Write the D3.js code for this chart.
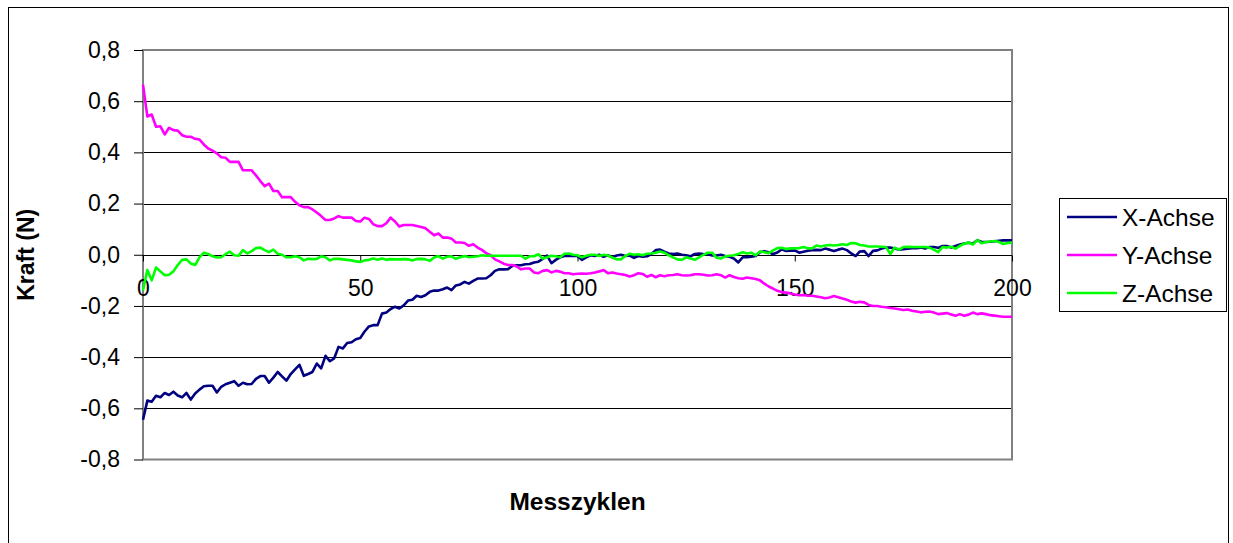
<!DOCTYPE html>
<html>
<head>
<meta charset="utf-8">
<script src="https://cdn.jsdelivr.net/npm/d3@7"></script>
<style>
  html, body { margin: 0; padding: 0; background: #fff; }
  svg { display: block; font-family: "Liberation Sans", Arial, sans-serif; }
</style>
</head>
<body>
<svg id="chart" width="1233" height="543"></svg>
<script>
// Kraftmessung über 200 Messzyklen (Werte in N)
const seriesNames = ["X-Achse", "Y-Achse", "Z-Achse"];
const seriesColors = ["#000080", "#FF00FF", "#00FF00"];

const xAchse = [
  -0.645,-0.57,-0.574,-0.551,-0.557,-0.54,-0.548,-0.535,-0.55,-0.557,
  -0.54,-0.566,-0.542,-0.527,-0.514,-0.512,-0.512,-0.538,-0.516,-0.506,
  -0.5,-0.494,-0.512,-0.5,-0.506,-0.505,-0.485,-0.474,-0.474,-0.5,
  -0.48,-0.458,-0.475,-0.492,-0.466,-0.448,-0.43,-0.473,-0.466,-0.458,
  -0.425,-0.444,-0.395,-0.416,-0.405,-0.36,-0.366,-0.345,-0.342,-0.33,
  -0.325,-0.3,-0.28,-0.275,-0.275,-0.23,-0.226,-0.212,-0.203,-0.21,
  -0.198,-0.179,-0.176,-0.16,-0.165,-0.158,-0.145,-0.14,-0.14,-0.135,
  -0.128,-0.138,-0.12,-0.116,-0.106,-0.113,-0.102,-0.093,-0.093,-0.092,
  -0.08,-0.063,-0.057,-0.057,-0.056,-0.044,-0.041,-0.041,-0.037,-0.036,
  -0.03,-0.027,-0.016,-0.003,-0.033,-0.02,-0.01,-0.005,-0.005,-0.005,
  -0.005,-0.02,-0.01,-0.002,-0.005,0.0,-0.008,-0.002,-0.01,-0.003,
  0.0,-0.005,-0.003,-0.012,-0.005,-0.008,-0.006,0.003,0.018,0.02,
  0.012,0.005,0.003,0.005,0.0,-0.002,-0.006,0.003,0.005,0.003,
  0.002,-0.003,-0.003,0.0,-0.005,-0.008,-0.015,-0.03,-0.01,-0.01,
  -0.008,-0.005,0.01,0.014,0.01,0.003,0.009,0.021,0.015,0.016,
  0.017,0.008,0.012,0.016,0.018,0.019,0.018,0.024,0.02,0.015,
  0.02,0.024,0.018,0.005,-0.005,0.013,0.014,-0.005,0.015,0.017,
  0.024,0.028,0.028,0.024,0.02,0.022,0.024,0.026,0.026,0.028,
  0.024,0.03,0.03,0.027,0.034,0.034,0.028,0.034,0.04,0.044,
  0.047,0.044,0.057,0.05,0.05,0.051,0.053,0.055,0.056,0.056,
  0.056
];

const yAchse = [
  0.665,0.54,0.548,0.50,0.502,0.47,0.496,0.487,0.485,0.467,
  0.461,0.461,0.453,0.45,0.431,0.415,0.407,0.396,0.381,0.379,
  0.363,0.363,0.363,0.33,0.33,0.33,0.31,0.288,0.268,0.278,
  0.249,0.249,0.225,0.225,0.225,0.207,0.193,0.186,0.186,0.177,
  0.165,0.151,0.136,0.136,0.142,0.151,0.145,0.145,0.145,0.132,
  0.13,0.145,0.14,0.119,0.112,0.112,0.123,0.145,0.13,0.11,
  0.116,0.116,0.116,0.112,0.108,0.104,0.09,0.076,0.083,0.067,
  0.067,0.063,0.048,0.048,0.046,0.035,0.041,0.028,0.019,0.006,
  -0.002,-0.018,-0.026,-0.035,-0.04,-0.04,-0.046,-0.057,-0.054,-0.054,
  -0.069,-0.072,-0.063,-0.06,-0.069,-0.063,-0.066,-0.072,-0.072,-0.076,
  -0.074,-0.073,-0.074,-0.072,-0.069,-0.065,-0.06,-0.072,-0.069,-0.073,
  -0.076,-0.079,-0.085,-0.08,-0.072,-0.075,-0.086,-0.079,-0.088,-0.08,
  -0.084,-0.08,-0.079,-0.076,-0.08,-0.081,-0.08,-0.076,-0.076,-0.078,
  -0.081,-0.08,-0.076,-0.08,-0.089,-0.08,-0.087,-0.092,-0.094,-0.089,
  -0.092,-0.095,-0.1,-0.113,-0.124,-0.132,-0.141,-0.146,-0.148,-0.151,
  -0.155,-0.158,-0.157,-0.16,-0.16,-0.163,-0.166,-0.17,-0.167,-0.161,
  -0.166,-0.171,-0.176,-0.183,-0.187,-0.184,-0.186,-0.196,-0.2,-0.2,
  -0.203,-0.205,-0.208,-0.21,-0.213,-0.216,-0.214,-0.219,-0.222,-0.225,
  -0.223,-0.222,-0.226,-0.232,-0.23,-0.228,-0.233,-0.238,-0.232,-0.238,
  -0.234,-0.226,-0.232,-0.229,-0.232,-0.236,-0.238,-0.24,-0.242,-0.242,
  -0.242
];

const zAchse = [
  -0.14,-0.06,-0.1,-0.05,-0.065,-0.08,-0.078,-0.065,-0.04,-0.02,
  -0.018,-0.034,-0.04,-0.01,0.008,0.003,-0.006,-0.011,-0.01,0.002,
  0.012,-0.002,-0.004,0.018,0.005,0.014,0.026,0.028,0.018,0.01,
  0.02,0.004,0.0,-0.01,-0.01,-0.006,-0.01,-0.022,-0.016,-0.017,
  -0.016,-0.006,-0.01,-0.022,-0.016,-0.016,-0.018,-0.02,-0.022,-0.026,
  -0.028,-0.022,-0.02,-0.015,-0.02,-0.015,-0.02,-0.017,-0.018,-0.018,
  -0.017,-0.018,-0.022,-0.017,-0.016,-0.018,-0.024,-0.011,-0.005,-0.015,
  -0.008,-0.006,-0.016,-0.01,-0.005,-0.01,-0.008,-0.006,-0.002,-0.004,
  -0.004,-0.004,-0.004,-0.004,-0.004,-0.004,-0.004,-0.004,-0.015,-0.006,
  -0.006,0.002,-0.015,-0.01,-0.004,-0.006,-0.01,0.004,0.005,0.0,
  -0.002,-0.01,-0.004,0.0,0.0,-0.005,0.0,-0.003,-0.011,-0.018,
  -0.018,-0.005,0.004,0.0,0.002,-0.002,0.004,0.005,0.008,0.013,
  0.008,-0.002,-0.01,-0.018,-0.02,-0.01,-0.015,-0.02,-0.01,0.0,
  0.008,0.008,-0.012,-0.015,-0.006,-0.004,-0.002,0.003,0.01,0.005,
  0.008,-0.002,0.013,0.01,0.006,0.017,0.026,0.027,0.022,0.025,
  0.025,0.026,0.03,0.025,0.025,0.036,0.032,0.036,0.038,0.036,
  0.038,0.041,0.038,0.046,0.045,0.038,0.036,0.032,0.032,0.032,
  0.031,0.03,0.003,0.028,0.02,0.03,0.031,0.03,0.03,0.03,
  0.03,0.028,0.02,0.01,0.03,0.028,0.031,0.024,0.035,0.043,
  0.048,0.04,0.057,0.045,0.05,0.052,0.054,0.05,0.042,0.046,
  0.048
];

const xTicks = [0, 50, 100, 150, 200];
const yTicks = [-0.8, -0.6, -0.4, -0.2, 0, 0.2, 0.4, 0.6, 0.8];
const xTitle = "Messzyklen";
const yTitle = "Kraft (N)";

const svg = d3.select("#chart");
const plot = { left: 143, right: 1012, top: 50, bottom: 459.5 };

const x = d3.scaleLinear().domain([0, 200]).range([plot.left, plot.right]);
const y = d3.scaleLinear().domain([-0.8, 0.8]).range([plot.bottom, plot.top]);
const fmt = v => d3.format(".1f")(v).replace(".", ",").replace("−", "-");

// outer chart frame
svg.append("rect")
  .attr("x", 8.5).attr("y", 7.5)
  .attr("width", 1220).attr("height", 600)
  .attr("fill", "#fff").attr("stroke", "#000").attr("stroke-width", 1);

// horizontal gridlines
svg.append("g").selectAll("line")
  .data(yTicks.filter(v => Math.abs(v) < 0.79 && v !== 0))
  .join("line")
  .attr("x1", plot.left).attr("x2", plot.right)
  .attr("y1", d => Math.round(y(d)) + 0.5).attr("y2", d => Math.round(y(d)) + 0.5)
  .attr("stroke", "#000").attr("stroke-width", 1);

// plot area border
svg.append("rect")
  .attr("x", plot.left).attr("y", plot.top)
  .attr("width", plot.right - plot.left).attr("height", plot.bottom - plot.top)
  .attr("fill", "none").attr("stroke", "#808080").attr("stroke-width", 2);

// y axis
const yAxis = svg.append("g")
  .attr("transform", `translate(${plot.left},0)`)
  .call(d3.axisLeft(y).tickValues(yTicks).tickFormat(fmt).tickSize(9).tickPadding(14));
yAxis.select(".domain").remove();
yAxis.selectAll(".tick line").attr("stroke", "#000");
yAxis.selectAll("text")
  .attr("font-size", 23).attr("fill", "#000")
  .attr("font-family", "'Liberation Sans', Arial, sans-serif");

// x axis crossing at zero
const xAxis = svg.append("g")
  .attr("transform", `translate(0,${Math.round(y(0)) + 0.5})`)
  .call(d3.axisBottom(x).tickValues(xTicks).tickFormat(d3.format("d")).tickSize(6).tickPadding(18));
xAxis.select(".domain").attr("stroke", "#000").attr("d", `M${plot.left},0H${plot.right}`);
xAxis.selectAll(".tick line").attr("stroke", "#000");
xAxis.selectAll("text")
  .attr("font-size", 23).attr("fill", "#000")
  .attr("font-family", "'Liberation Sans', Arial, sans-serif");

// data lines
const seriesData = [xAchse, yAchse, zAchse];
const line = d3.line().x((d, i) => x(i)).y(d => y(d));
seriesData.forEach((vals, k) => {
  svg.append("path")
    .datum(vals)
    .attr("d", line)
    .attr("fill", "none")
    .attr("stroke", seriesColors[k])
    .attr("stroke-width", 2.6)
    .attr("stroke-linejoin", "round");
});

// axis titles
svg.append("text")
  .attr("transform", `translate(34,${(plot.top + plot.bottom) / 2}) rotate(-90)`)
  .attr("text-anchor", "middle")
  .attr("font-size", 23).attr("font-weight", "bold")
  .text(yTitle);

svg.append("text")
  .attr("x", (plot.left + plot.right) / 2).attr("y", 510)
  .attr("text-anchor", "middle")
  .attr("font-size", 24.5).attr("font-weight", "bold")
  .text(xTitle);

// legend
const legend = svg.append("g");
legend.append("rect")
  .attr("x", 1059.5).attr("y", 198.5)
  .attr("width", 167).attr("height", 113)
  .attr("fill", "#fff").attr("stroke", "#000").attr("stroke-width", 1);
seriesNames.forEach((name, k) => {
  const ly = 217 + k * 38;
  legend.append("line")
    .attr("x1", 1067).attr("x2", 1117)
    .attr("y1", ly).attr("y2", ly)
    .attr("stroke", seriesColors[k]).attr("stroke-width", 2.6);
  legend.append("text")
    .attr("x", 1122).attr("y", ly).attr("dy", "0.36em")
    .attr("font-size", 24.5)
    .text(name);
});
</script>
</body>
</html>
